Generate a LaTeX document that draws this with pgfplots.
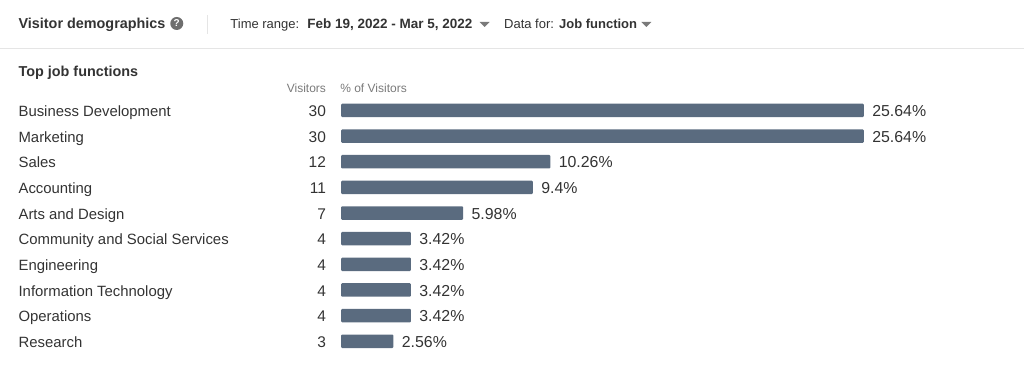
\documentclass[border=0pt]{standalone}
\usepackage{pgfplots}
\usepackage{pgfplotstable}
\usepackage{fontspec}
\setmainfont{Liberation Sans}
\pgfplotsset{compat=1.18}
\definecolor{barc}{HTML}{5A6B7F}
\definecolor{txt}{HTML}{333333}
\definecolor{mut}{HTML}{7A7A7A}
\newcommand{\fs}[1]{\fontsize{#1bp}{#1bp}\selectfont}
\pgfplotstableread{
y pct lab visitors
0 25.64 25.64\% 30
1 25.64 25.64\% 30
2 10.26 10.26\% 12
3 9.4 9.4\% 11
4 5.98 5.98\% 7
5 3.42 3.42\% 4
6 3.42 3.42\% 4
7 3.42 3.42\% 4
8 3.42 3.42\% 4
9 2.56 2.56\% 3
}\datatable
\begin{document}
\begin{tikzpicture}
\begin{axis}[
  at={(0,0)}, anchor=south west,
  scale only axis, width=1024bp, height=382bp,
  xmin=-16.72, xmax=33.48,
  ymin=-4.305, ymax=10.576, y dir=reverse,
  axis line style={draw=none}, ticks=none, clip=false,
  xbar, bar width=13.5bp,
]
\addplot[draw=none, fill=barc, rounded corners=1bp,
  nodes near coords, point meta=explicit symbolic,
  every node near coord/.append style={font=\fs{15.9}, text=txt, anchor=west, xshift=5bp, yshift=-1bp, text height=10.5bp, text depth=0pt}]
  table[x=pct, y=y, meta=lab] {\datatable};
\end{axis}
\begin{scope}[shift={(0,382bp)}, x=1bp, y=-1bp, text=txt]
  \foreach \n/\yy/\v in {Business Development/116.5/30, Marketing/143/30, Sales/168/12, Accounting/193.5/11, Arts and Design/219.5/7, Community and Social Services/245/4, Engineering/270.5/4, Information Technology/296.5/4, Operations/322/4, Research/348/3}{
    \node[anchor=base west, inner sep=0pt, font=\fs{14.9}] at (18,\yy) {\n};
    \node[anchor=base east, inner sep=0pt, font=\fs{15.5}] at (326,\yy) {\v};
  }
  \node[anchor=base west, inner sep=0pt, font=\fs{14.4}\bfseries] at (18,76.5) {Top job functions};
  \node[anchor=base east, inner sep=0pt, font=\fs{12}, text=mut] at (326,93) {Visitors};
  \node[anchor=base west, inner sep=0pt, font=\fs{12}, text=mut] at (340,93) {\% of Visitors};
  \node[anchor=base west, inner sep=0pt, font=\fs{14.4}\bfseries] at (18,28.5) {Visitor demographics};
  \fill[mut!90!black] (176.5,23.5) circle (6.5);
  \node[inner sep=0pt, font=\fs{10}\bfseries, text=white] at (176.5,23.5) {?};
  \draw[gray!20, line width=0.8bp] (207,15) -- (207,34);
  \draw[gray!20, line width=0.8bp] (0,48.5) -- (1024,48.5);
  \node[anchor=base west, inner sep=0pt, font=\fs{13}] at (230,29) {Time range:};
  \node[anchor=base west, inner sep=0pt, font=\fs{13.5}\bfseries] at (307,29) {Feb 19, 2022 - Mar 5, 2022};
  \fill[mut] (479.5,22) -- (489.5,22) -- (484.5,27) -- cycle;
  \node[anchor=base west, inner sep=0pt, font=\fs{13}] at (504,29) {Data for:};
  \node[anchor=base west, inner sep=0pt, font=\fs{13}\bfseries] at (559,29) {Job function};
  \fill[mut] (641.5,22) -- (651.5,22) -- (646.5,27) -- cycle;
\end{scope}
\end{tikzpicture}
\end{document}
